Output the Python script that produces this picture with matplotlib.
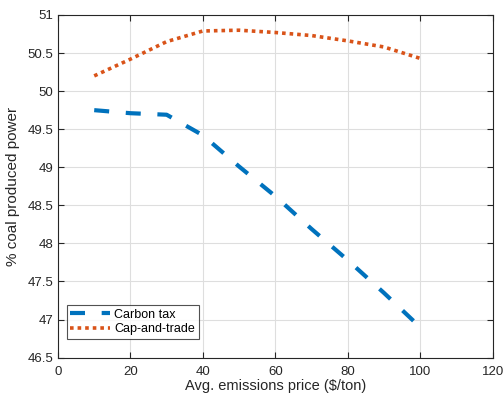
import matplotlib.pyplot as plt

plt.rcParams['font.family'] = ['Liberation Sans', 'DejaVu Sans']

prices = [10, 20, 30, 40, 50, 60, 70, 80, 90, 100]
carbon_tax = [49.75, 49.71, 49.69, 49.42, 49.01, 48.62, 48.19, 47.78, 47.35, 46.90]
cap_and_trade = [50.20, 50.42, 50.65, 50.79, 50.80, 50.77, 50.73, 50.66, 50.58, 50.43]

fig = plt.figure(figsize=(5.03, 4.05), dpi=100)
ax = fig.add_axes([0.1153, 0.117, 0.864, 0.846])

ax.plot(prices, carbon_tax, color='#0072BD', linewidth=3, dashes=(3.6, 4.0),
        label='Carbon tax')
ax.plot(prices, cap_and_trade, color='#D95319', linewidth=2.6, dashes=(1, 1.1),
        label='Cap-and-trade')

ax.set_xlim(0, 120)
ax.set_ylim(46.5, 51)
ax.set_xticks([0, 20, 40, 60, 80, 100, 120])
ax.set_yticks([46.5, 47, 47.5, 48, 48.5, 49, 49.5, 50, 50.5, 51])
ax.set_yticklabels(['46.5', '47', '47.5', '48', '48.5', '49', '49.5', '50', '50.5', '51'])
ax.grid(True, color='#dedede', linewidth=0.8)
ax.set_axisbelow(True)
ax.tick_params(direction='in', top=True, right=True, labelsize=9.5,
               colors='#262626', length=4, width=0.8)
ax.tick_params(axis='x', pad=6)
for s in ax.spines.values():
    s.set_color('#262626')
    s.set_linewidth(0.8)

ax.set_xlabel('Avg. emissions price ($/ton)', fontsize=10.5, color='#262626', labelpad=1)
ax.set_ylabel('% coal produced power', fontsize=11, color='#262626', labelpad=5)

leg = ax.legend(loc='lower left', bbox_to_anchor=(0.02, 0.055), fontsize=9,
                frameon=True, fancybox=False, edgecolor='#262626',
                handlelength=3.2, borderpad=0.3, labelspacing=0.2,
                handletextpad=0.3, borderaxespad=0)
leg.get_frame().set_linewidth(0.8)

fig.savefig('out.png', dpi=100)
